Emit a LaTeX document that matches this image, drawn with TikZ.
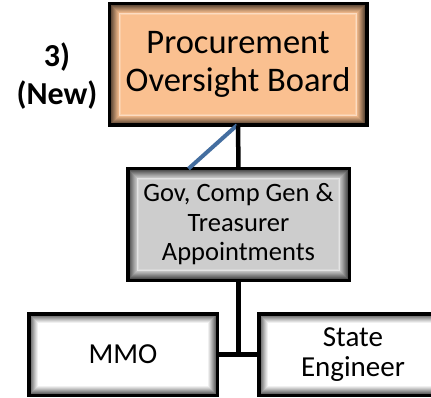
\documentclass[tikz,border=0pt]{standalone}
\usepackage{fontspec}
\setmainfont{Carlito}
\usetikzlibrary{calc}
\definecolor{peach}{RGB}{250,192,144}
\definecolor{grayface}{RGB}{205,205,205}
\definecolor{linkblue}{RGB}{68,110,160}
\newcommand{\bring}[3]{%
  \draw[line width=1.15pt, draw=#3] ($(#1.south west)+(#2,-#2)$) rectangle ($(#1.north east)+(-#2,#2)$);}
\newcommand{\mybevel}[2]{%
  \bring{#1}{2.0}{#2!40!black}%
  \bring{#1}{3.0}{#2!48!black}%
  \bring{#1}{4.0}{#2!56!black}%
  \bring{#1}{5.0}{#2!64!black}%
  \bring{#1}{6.0}{#2!72!black}%
  \bring{#1}{7.0}{#2!80!black}%
  \bring{#1}{8.0}{#2!87!black}%
  \bring{#1}{9.0}{#2!94!black}%
  \bring{#1}{10.0}{#2!55!white}%
  \bring{#1}{11.0}{#2!80!white}%
  \draw[line width=3.5pt, draw=black] (#1.south west) rectangle (#1.north east);}
\tikzset{
  box/.style={draw=black, line width=3.5pt, inner sep=0pt, align=center},
  conn/.style={line width=4.5pt, draw=black},
  blueconn/.style={line width=4pt, draw=linkblue},
  lbl/.style={font=\bfseries\fontsize{32}{38}\selectfont, align=center}
}
\begin{document}
\begin{tikzpicture}[x=1pt,y=-1pt]
\useasboundingbox (0,0) rectangle (431,398);
\begin{scope}
\clip (0,0) rectangle (431,398);
\node[box, fill=peach, minimum width=254pt, minimum height=118pt,
      font=\fontsize{34.5}{38}\selectfont] (pob) at (238,64.5) {Procurement\\Oversight Board};
\node[box, fill=grayface, minimum width=218pt, minimum height=108pt,
      font=\fontsize{26.5}{29.5}\selectfont] (gov) at (238.5,224.5) {Gov, Comp Gen \&\\Treasurer\\Appointments};
\node[box, fill=white, minimum width=185pt, minimum height=78pt,
      font=\fontsize{29}{30}\selectfont] (mmo) at (123,354.5) {MMO};
\node[box, fill=white, minimum width=185pt, minimum height=78pt,
      font=\fontsize{29}{30}\selectfont] (se) at (353,354.5) {State\\Engineer};
\mybevel{pob}{peach}
\mybevel{gov}{grayface}
\mybevel{mmo}{white}
\mybevel{se}{white}
\coordinate (blueend) at ($(gov.north)+(-50,0)$);
\draw[blueconn] ($(pob.south)+(-1,0)$) -- (blueend);
\draw[conn] (pob.south) -- (gov.north);
\draw[conn] (gov.south) -- (gov.south |- mmo.east);
\draw[conn] (mmo.east) -- (se.west);
\node[lbl] (lab) at (57,76) {3)\\(New)};
\end{scope}
\end{tikzpicture}
\end{document}
